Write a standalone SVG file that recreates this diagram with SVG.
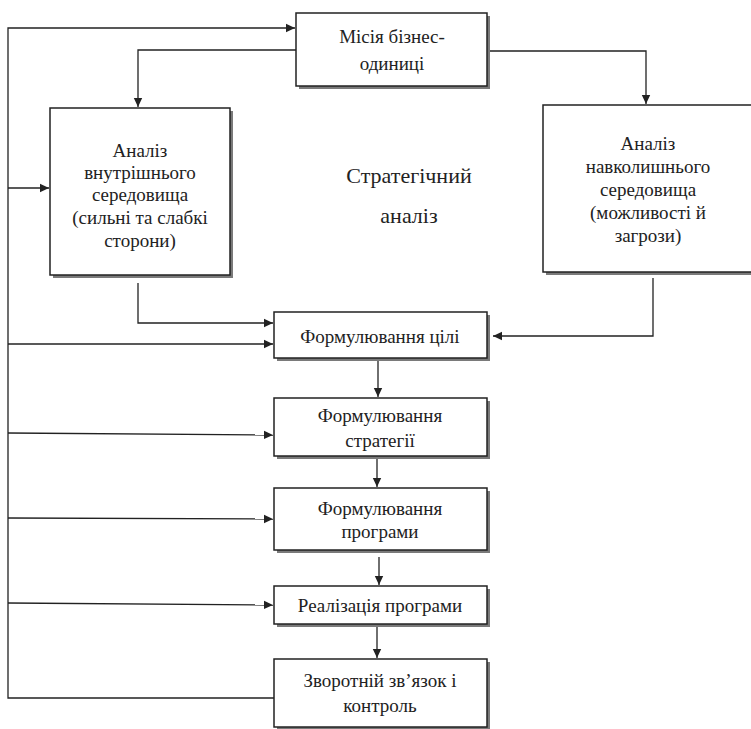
<svg xmlns="http://www.w3.org/2000/svg" width="751" height="729" viewBox="0 0 751 729">
<style>
.box{fill:#fff;stroke:#222;stroke-width:1.5}
.sh{fill:#7a7a7a}
.t{font-family:"Liberation Serif","Times New Roman",serif;font-size:19px;fill:#222;text-anchor:middle}
.big{font-size:22px}
.c{fill:none;stroke:#222;stroke-width:1.3}
</style>
<defs>
<marker id="a" markerWidth="10" markerHeight="10" refX="9" refY="5" orient="auto" markerUnits="userSpaceOnUse">
<path d="M0,0.8 L9,5 L0,9.2 Z" fill="#222"/>
</marker>
</defs>
<rect width="751" height="729" fill="#fff"/>
<g id="connectors">
<polyline class="c" points="274,698 8,698 8,28 295,28" marker-end="url(#a)"/>
<line class="c" x1="8" y1="188" x2="49" y2="188" marker-end="url(#a)"/>
<line class="c" x1="8" y1="344" x2="273" y2="344" marker-end="url(#a)"/>
<line class="c" x1="8" y1="433" x2="273" y2="435" marker-end="url(#a)"/>
<line class="c" x1="8" y1="518" x2="273" y2="519" marker-end="url(#a)"/>
<line class="c" x1="8" y1="603" x2="273" y2="605" marker-end="url(#a)"/>
<polyline class="c" points="296,50 138,50 138,107" marker-end="url(#a)"/>
<polyline class="c" points="490,51 646,51 646,104" marker-end="url(#a)"/>
<polyline class="c" points="138,283 138,323 273,323" marker-end="url(#a)"/>
<polyline class="c" points="653,278 653,336 493,336" marker-end="url(#a)"/>
<line class="c" x1="378" y1="361" x2="378" y2="397" marker-end="url(#a)"/>
<line class="c" x1="377" y1="459" x2="377" y2="487" marker-end="url(#a)"/>
<line class="c" x1="379" y1="557" x2="379" y2="585" marker-end="url(#a)"/>
<line class="c" x1="377" y1="627" x2="377" y2="658" marker-end="url(#a)"/>
</g>
<g id="mission">
<rect class="sh" x="299" y="16" width="191" height="73"/>
<rect class="box" x="296" y="13" width="191" height="73"/>
<text class="t" x="392" y="43">Місія бізнес-</text>
<text class="t" x="392" y="70">одиниці</text>
</g>
<g id="internal">
<rect class="sh" x="53" y="111" width="180" height="167"/>
<rect class="box" x="50" y="108" width="180" height="167"/>
<text class="t" x="140" y="157">Аналіз</text>
<text class="t" x="140" y="179">внутрішнього</text>
<text class="t" x="140" y="201">середовища</text>
<text class="t" x="140" y="224">(сильні та слабкі</text>
<text class="t" x="140" y="247">сторони)</text>
</g>
<g id="external">
<rect class="sh" x="546" y="108" width="210" height="167"/>
<rect class="box" x="543" y="105" width="210" height="167"/>
<text class="t" x="648" y="150">Аналіз</text>
<text class="t" x="648" y="173">навколишнього</text>
<text class="t" x="648" y="196">середовища</text>
<text class="t" x="648" y="219">(можливості й</text>
<text class="t" x="648" y="242">загрози)</text>
</g>
<g id="title">
<text class="t big" x="409" y="183">Стратегічний</text>
<text class="t big" x="409" y="223">аналіз</text>
</g>
<g id="goal">
<rect class="sh" x="277" y="315" width="213" height="46"/>
<rect class="box" x="274" y="312" width="213" height="46"/>
<text class="t" x="380" y="343">Формулювання цілі</text>
</g>
<g id="strategy">
<rect class="sh" x="277" y="401" width="213" height="58"/>
<rect class="box" x="274" y="398" width="213" height="58"/>
<text class="t" x="380" y="422">Формулювання</text>
<text class="t" x="380" y="447">стратегії</text>
</g>
<g id="programme">
<rect class="sh" x="277" y="491" width="213" height="62"/>
<rect class="box" x="274" y="488" width="213" height="62"/>
<text class="t" x="380" y="515">Формулювання</text>
<text class="t" x="380" y="538">програми</text>
</g>
<g id="realization">
<rect class="sh" x="277" y="589" width="213" height="38"/>
<rect class="box" x="274" y="586" width="213" height="38"/>
<text class="t" x="380" y="612">Реалізація програми</text>
</g>
<g id="feedback">
<rect class="sh" x="277" y="662" width="213" height="68"/>
<rect class="box" x="274" y="659" width="213" height="68"/>
<text class="t" x="380" y="687">Зворотній зв’язок і</text>
<text class="t" x="380" y="712">контроль</text>
</g>
</svg>
